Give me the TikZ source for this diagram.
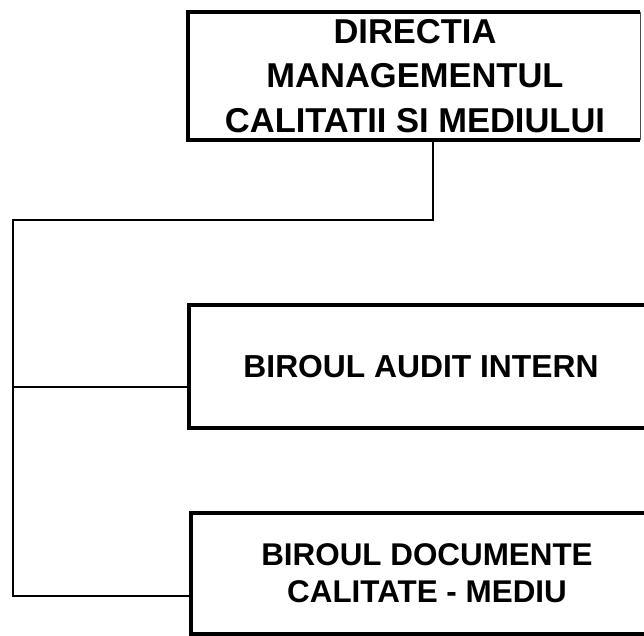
\documentclass[tikz,border=0pt]{standalone}
\usepackage{fontspec}
\setmainfont{Liberation Sans}
\begin{document}
\begin{tikzpicture}[x=1pt,y=-1pt,
  boxtext/.style={inner sep=0pt, align=center},
  boxline/.style={line width=3.8pt},
  thinside/.style={line width=1.2pt, black!70},
  conn/.style={line width=1.8pt}]
\useasboundingbox (0,0) rectangle (644,635);
\clip (0,0) rectangle (644,635);
\fill[white] (0,0) rectangle (644,635);
% boxes
\node[boxtext, minimum width=454pt, minimum height=127pt,
  font=\bfseries\fontsize{34.5}{44.5}\selectfont] (top) at (415,76)
  {DIRECTIA\\MANAGEMENTUL\\CALITATII SI MEDIULUI};
\node[boxtext, minimum width=464pt, minimum height=123pt,
  font=\bfseries\fontsize{31.8}{38}\selectfont] (audit) at (421,366.5)
  {BIROUL AUDIT INTERN};
\node[boxtext, minimum width=472pt, minimum height=121pt,
  font=\bfseries\fontsize{31.4}{37}\selectfont] (docs) at (427,573.5)
  {BIROUL DOCUMENTE\\CALITATE - MEDIU};
\draw[boxline] ([xshift=-2pt]top.north east) -- (top.north west) -- (top.south west) -- ([xshift=-2pt]top.south east);
\draw[thinside] ([xshift=-2pt]top.north east) -- ([xshift=-2pt]top.south east);
\draw[boxline] (audit.north east) -- (audit.north west) -- (audit.south west) -- (audit.south east);
\draw[boxline] (docs.north east) -- (docs.north west) -- (docs.south west) -- (docs.south east);
% connectors
\coordinate (j1) at (433,220);
\coordinate (j2) at (13,220);
\coordinate (j3) at (13,596);
\coordinate (j4) at (13,387);
\draw[conn] (top.south -| j1) -- (j1) -- (j2) -- (j3) -- (j3 -| docs.west);
\draw[conn] (j4) -- (j4 -| audit.west);
\end{tikzpicture}
\end{document}
